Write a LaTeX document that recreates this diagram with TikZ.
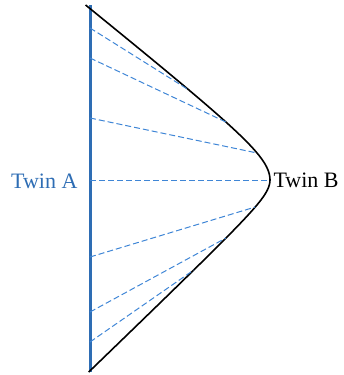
\documentclass[tikz,border=0pt]{standalone}
\usepackage{fontspec}
\setmainfont{Liberation Serif}
\definecolor{twinblue}{HTML}{2E6DB4}
\definecolor{simblue}{HTML}{3F86D6}

\begin{document}
\begin{tikzpicture}[x=1pt,y=-1pt,
  declare function={
    outarc(\d)=270-12.5*(sqrt(3.0^2+(\d/10)^2)-3.0);
    backarc(\d)=270-10.4*(sqrt(1.86^2+(\d/10)^2)-1.86);
  },
  twinlabel/.style={font=\fontsize{22}{24}\selectfont},
  simline/.style={simblue, line width=1pt, dash pattern=on 6pt off 3pt}]
\useasboundingbox (0,0) rectangle (344,375);

% Twin A worldline
\coordinate (Atop) at (90,5);
\coordinate (Abot) at (90,372);
\draw[twinblue, line width=3pt] (Atop) -- (Abot);
\node[twinblue, twinlabel, left=9pt] (labA) at (90,181) {Twin A};

% Twin B worldline: out and back
\draw[black, line width=1.6pt]
  plot[domain=5:180, samples=80] ({outarc(180-\x)},\x)
  -- plot[domain=180:372, samples=80] ({backarc(\x-180)},\x);

% Points on Twin B's worldline
\coordinate (B1) at ({outarc(90)},90);
\coordinate (B2) at ({outarc(58)},122);
\coordinate (B3) at ({outarc(27)},153);
\coordinate (B4) at (270,180);
\coordinate (B5) at ({backarc(27)},207);
\coordinate (B6) at ({backarc(58)},238);
\coordinate (B7) at ({backarc(90)},270);
\node[black, twinlabel, right=0pt] (labB) at (B4) {Twin B};

% Lines of simultaneity
\coordinate (A1) at (90,28);
\coordinate (A2) at (90,58);
\coordinate (A3) at (90,118);
\coordinate (A4) at (90,180);
\coordinate (A5) at (90,257);
\coordinate (A6) at (90,312);
\coordinate (A7) at (90,342);
\foreach \i in {1,...,7}
  \draw[simline] (A\i) -- (B\i);

\end{tikzpicture}
\end{document}
